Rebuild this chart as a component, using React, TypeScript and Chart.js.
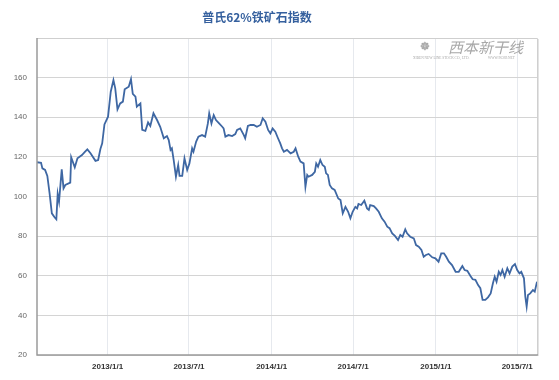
import React, { useEffect, useRef } from "react";
import { Chart, registerables } from "chart.js";

Chart.register(...registerables);

const chartTitle = "普氏62%铁矿石指数";

// x values: days since 2013-01-01
const days = [
  -157, -148, -145, -139, -134, -129, -124, -118, -114, -111, -108, -102, -98, -94, -83, -81, -73, -67, -57, -50,
  -45, -38, -27, -21, -16, -12, -7, 1, 7, 13, 17, 22, 28, 34, 38, 47, 52, 56, 62, 65,
  73, 77, 84, 90, 95, 102, 110, 117, 125, 132, 136, 140, 143, 147, 152, 157, 160, 166, 171, 177,
  182, 188, 191, 197, 202, 210, 217, 223, 226, 231, 236, 241, 247, 255, 258, 262, 269, 277, 284, 288,
  295, 303, 306, 312, 318, 325, 332, 340, 345, 351, 357, 362, 367, 373, 379, 384, 388, 392, 399, 407,
  414, 418, 424, 429, 436, 440, 444, 447, 455, 461, 464, 468, 473, 478, 483, 486, 490, 494, 499, 505,
  513, 518, 523, 529, 535, 540, 545, 551, 555, 558, 564, 571, 577, 581, 584, 592, 597, 603, 610, 616,
  622, 627, 633, 639, 646, 651, 656, 662, 666, 673, 681, 686, 692, 698, 703, 708, 714, 722, 729, 736,
  742, 748, 753, 759, 766, 774, 781, 789, 794, 800, 807, 812, 818, 824, 829, 834, 840, 846, 852, 857,
  861, 865, 870, 874, 878, 883, 889, 894, 900, 906, 911, 916, 920, 926, 929, 932, 935, 940, 946, 950,
  955,
];

const values = [
  117.3, 117.0, 114.2, 113.4, 110.4, 101.6, 91.5, 89.5, 88.5, 101.3, 97.4, 113.7, 104.1, 105.8, 107.0, 119.8, 114.7, 119.3, 120.9, 122.6,
  123.8, 121.8, 118.0, 118.4, 124.0, 126.8, 136.4, 140.3, 152.9, 158.8, 154.6, 144.0, 147.0, 147.9, 154.1, 155.4, 159.2, 151.8, 150.4, 145.3,
  147.0, 133.6, 133.1, 137.4, 135.6, 142.0, 138.6, 135.2, 129.4, 130.5, 128.5, 123.5, 124.3, 118.4, 110.0, 115.9, 110.4, 110.4, 119.3, 113.4,
  116.7, 124.3, 122.6, 127.7, 130.2, 131.0, 130.2, 136.9, 142.0, 136.9, 141.1, 138.6, 137.2, 135.2, 134.4, 130.2, 131.0, 130.5, 131.5, 133.6,
  134.4, 131.0, 129.4, 135.6, 136.1, 136.1, 135.2, 136.1, 139.5, 137.8, 133.6, 131.9, 134.4, 132.7, 129.4, 126.8, 124.3, 122.6, 123.5, 121.8,
  122.6, 124.3, 120.1, 117.6, 116.7, 104.9, 110.9, 110.0, 110.9, 112.5, 116.7, 115.0, 118.4, 115.9, 115.0, 111.7, 110.9, 105.8, 104.1, 103.3,
  99.0, 98.2, 91.5, 94.8, 92.3, 89.0, 92.3, 94.8, 94.0, 96.2, 95.7, 97.9, 94.0, 93.2, 95.7, 95.2, 94.0, 92.3, 89.0, 87.3,
  84.8, 84.0, 81.4, 80.1, 78.0, 80.6, 79.7, 83.4, 81.4, 79.7, 78.9, 75.5, 74.7, 73.0, 69.6, 70.5, 71.0, 69.3, 68.8, 67.1,
  71.3, 71.3, 69.6, 67.1, 65.4, 62.0, 62.0, 64.9, 62.9, 62.5, 59.9, 58.2, 57.9, 55.3, 53.7, 47.8, 47.8, 49.1, 51.1, 56.2,
  59.5, 57.0, 62.0, 60.4, 62.9, 59.5, 63.8, 61.2, 64.6, 65.9, 62.9, 61.2, 62.0, 58.7, 49.4, 44.4, 50.3, 51.1, 52.8, 52.0,
  57.0,
];

const xTickDays = [0, 181, 365, 546, 730, 911];
const xTickLabels = ["2013/1/1", "2013/7/1", "2014/1/1", "2014/7/1", "2015/1/1", "2015/7/1"];
const yTicks = [20, 40, 60, 80, 100, 120, 140, 160, 180];

const overlayPlugin = {
  id: "overlay",
  beforeDatasetsDraw(chart: any) {
    const ctx = chart.ctx;
    const { left, right, top, bottom } = chart.chartArea;
    ctx.save();
    // watermark
    ctx.fillStyle = "#a8a8a8";
    ctx.font = "italic 15px 'Noto Sans CJK SC'";
    ctx.textBaseline = "middle";
    ctx.textAlign = "left";
    ctx.fillText("西本新干线", 448, 47);
    ctx.font = "bold 11px 'Liberation Serif'";
    ctx.fillText("\u2638", 420, 47);
    ctx.font = "3.5px 'Liberation Serif'";
    ctx.fillText("XIBEN NEW LINE STOCK CO., LTD.", 413, 58);
    ctx.fillText("WWW.96369.NET", 488, 58);
    ctx.restore();
  },
  afterDraw(chart: any) {
    const ctx = chart.ctx;
    const { left, right, top, bottom } = chart.chartArea;
    ctx.save();
    // outer frame
    ctx.strokeStyle = "#cfcfcf";
    ctx.lineWidth = 1;
    ctx.beginPath();
    ctx.moveTo(left, top + 0.5);
    ctx.lineTo(right + 0.5, top + 0.5);
    ctx.lineTo(right + 0.5, bottom);
    ctx.stroke();
    ctx.strokeStyle = "#e4e4e4";
    ctx.beginPath();
    ctx.moveTo(right + 1.5, top + 1);
    ctx.lineTo(right + 1.5, bottom + 1);
    ctx.stroke();
    ctx.strokeStyle = "#9a9a9a";
    ctx.lineWidth = 1.5;
    ctx.beginPath();
    ctx.moveTo(left, top);
    ctx.lineTo(left, bottom);
    ctx.lineTo(right + 1, bottom);
    ctx.stroke();
    // title
    ctx.fillStyle = "#35609e";
    ctx.font = "bold 12px 'Noto Sans CJK SC'";
    ctx.textAlign = "center";
    ctx.textBaseline = "middle";
    ctx.fillText(chartTitle, 257, 17);
    ctx.restore();
  },
};

export default function App() {
  const ref = useRef<HTMLCanvasElement | null>(null);
  useEffect(() => {
    if (!ref.current) return;
    const chart = new Chart(ref.current, {
      type: "line",
      data: {
        datasets: [
          {
            data: days.map((d, i) => ({ x: d, y: values[i] })),
            borderColor: "#3e67a3",
            borderWidth: 1.8,
            pointRadius: 0,
            tension: 0,
            fill: false,
          },
        ],
      },
      options: {
        animation: false,
        responsive: false,
        maintainAspectRatio: false,
        layout: { padding: { left: 0, right: 22, top: 38, bottom: 0 } },
        plugins: { legend: { display: false }, tooltip: { enabled: false }, title: { display: false } },
        scales: {
          x: {
            type: "linear",
            min: -157,
            max: 955,
            afterBuildTicks: (scale: any) => {
              scale.ticks = xTickDays.map((v) => ({ value: v }));
            },
            afterFit: (scale: any) => {
              scale.height = 25;
            },
            border: { display: false },
            grid: { color: "#e6e9ee", lineWidth: 1, drawTicks: false },
            ticks: {
              autoSkip: false,
              maxRotation: 0,
              padding: 7,
              color: "#333333",
              font: { family: "'Liberation Sans', Arial", size: 8, weight: "bold" },
              callback: (v: any) => {
                const i = xTickDays.indexOf(Number(v));
                return i >= 0 ? xTickLabels[i] : "";
              },
            },
          },
          y: {
            min: 20,
            max: 180,
            afterBuildTicks: (scale: any) => {
              scale.ticks = yTicks.map((v) => ({ value: v }));
            },
            afterFit: (scale: any) => {
              scale.width = 37;
            },
            border: { display: false },
            grid: { color: "#d4d4d4", lineWidth: 1, drawTicks: false },
            ticks: {
              padding: 10,
              color: "#666666",
              font: { family: "'Liberation Sans', Arial", size: 8 },
              callback: (v: any) => (Number(v) === 180 ? "" : String(v)),
            },
          },
        },
      },
      plugins: [overlayPlugin],
    });
    return () => chart.destroy();
  }, []);
  return (
    <div style={{ position: "fixed", left: 0, top: 0, width: 559, height: 380, background: "#ffffff" }}>
      <canvas ref={ref} width={559} height={380} style={{ display: "block", width: 559, height: 380 }} />
    </div>
  );
}
